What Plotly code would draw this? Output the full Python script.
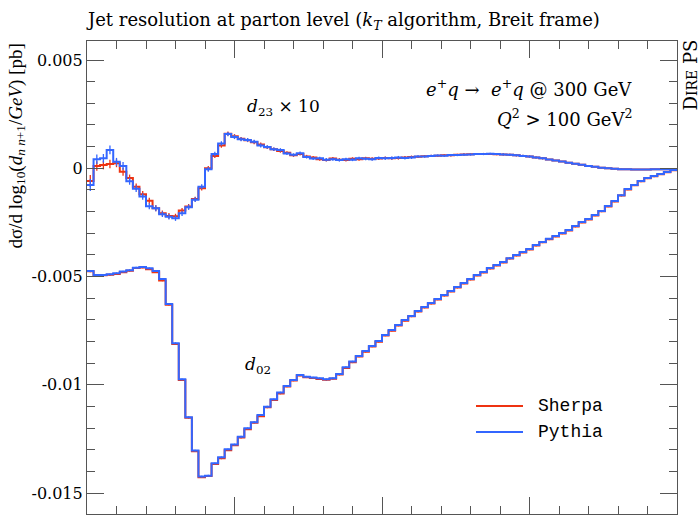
import numpy as np
import plotly.graph_objects as go

# ---------------- data (values in units of 1e-3 pb) ----------------
N_BINS = 90
X_MIN, X_MAX = 0.0, 4.0          # log10 range of the jet resolution (no labels shown)

d02_pythia = [
    -4.74, -4.93, -4.93, -4.90, -4.85, -4.77, -4.71, -4.59, -4.56, -4.62,
    -4.74, -5.11, -6.27, -8.08, -9.75, -11.50, -13.04, -14.24, -14.20, -13.63,
    -13.35, -12.98, -12.76, -12.40, -12.01, -11.73, -11.40, -11.01, -10.67, -10.36,
    -10.06, -9.78, -9.55, -9.63, -9.67, -9.70, -9.75, -9.70, -9.50, -9.19,
    -8.93, -8.67, -8.44, -8.21, -7.98, -7.70, -7.47, -7.24, -7.01, -6.82,
    -6.59, -6.41, -6.22, -6.04, -5.85, -5.67, -5.48, -5.30, -5.11, -4.93,
    -4.79, -4.61, -4.47, -4.33, -4.15, -4.01, -3.87, -3.73, -3.54, -3.40,
    -3.26, -3.13, -2.99, -2.85, -2.67, -2.48, -2.34, -2.16, -1.97, -1.74,
    -1.51, -1.24, -0.96, -0.77, -0.59, -0.45, -0.36, -0.26, -0.17, -0.08,
]
d02_sherpa = [
    -4.76, -4.95, -4.94, -4.92, -4.88, -4.80, -4.73, -4.61, -4.58, -4.66,
    -4.80, -5.18, -6.30, -8.12, -9.78, -11.52, -13.07, -14.27, -14.22, -13.66,
    -13.40, -13.02, -12.79, -12.44, -12.05, -11.75, -11.45, -11.04, -10.70, -10.40,
    -10.08, -9.80, -9.57, -9.65, -9.69, -9.73, -9.77, -9.72, -9.53, -9.22,
    -8.96, -8.69, -8.47, -8.23, -8.01, -7.72, -7.50, -7.26, -7.04, -6.84,
    -6.62, -6.43, -6.25, -6.06, -5.88, -5.69, -5.51, -5.32, -5.14, -4.95,
    -4.81, -4.63, -4.49, -4.35, -4.17, -4.03, -3.89, -3.75, -3.57, -3.42,
    -3.28, -3.15, -3.01, -2.87, -2.69, -2.50, -2.36, -2.18, -1.99, -1.76,
    -1.53, -1.26, -0.98, -0.78, -0.60, -0.46, -0.37, -0.27, -0.18, -0.09,
]

d23x10_sherpa = [
    -0.59, 0.11, 0.15, 0.20, 0.23, -0.16, -0.45, -0.85, -1.20, -1.50,
    -1.85, -2.08, -2.20, -2.22, -1.95, -1.77, -1.42, -0.92, 0.00, 0.57,
    1.05, 1.60, 1.48, 1.36, 1.30, 1.20, 1.10, 0.97, 0.88, 0.80,
    0.72, 0.60, 0.66, 0.55, 0.50, 0.42, 0.38, 0.45, 0.40, 0.38,
    0.44, 0.42, 0.46, 0.44, 0.45, 0.48, 0.46, 0.47, 0.50, 0.52,
    0.53, 0.56, 0.57, 0.58, 0.60, 0.60, 0.62, 0.64, 0.65, 0.66,
    0.66, 0.66, 0.65, 0.64, 0.62, 0.60, 0.57, 0.54, 0.50, 0.46,
    0.41, 0.36, 0.31, 0.26, 0.21, 0.16, 0.11, 0.07, 0.03, 0.00,
    -0.02, -0.04, -0.05, -0.06, -0.06, -0.06, -0.05, -0.05, -0.04, -0.03,
]
d23x10_pythia = [
    -0.77, 0.42, 0.46, 0.85, 0.30, 0.11, -0.60, -0.95, -1.30, -1.75,
    -1.85, -2.12, -2.24, -2.31, -2.08, -1.80, -1.45, -0.85, -0.05, 0.66,
    1.15, 1.58, 1.45, 1.34, 1.31, 1.23, 1.05, 0.98, 0.88, 0.85,
    0.68, 0.62, 0.70, 0.52, 0.45, 0.46, 0.40, 0.42, 0.38, 0.42,
    0.40, 0.46, 0.44, 0.42, 0.48, 0.46, 0.47, 0.50, 0.48, 0.50,
    0.55, 0.54, 0.57, 0.59, 0.58, 0.61, 0.61, 0.63, 0.64, 0.66,
    0.66, 0.67, 0.66, 0.64, 0.62, 0.60, 0.57, 0.54, 0.50, 0.46,
    0.41, 0.36, 0.31, 0.26, 0.21, 0.16, 0.11, 0.07, 0.03, 0.00,
    -0.02, -0.04, -0.05, -0.06, -0.06, -0.06, -0.05, -0.05, -0.04, -0.03,
]

# statistical uncertainties (1e-3 pb)
d23_err = [0.28, 0.22, 0.20, 0.20, 0.18, 0.18, 0.16, 0.15, 0.15, 0.14,
           0.14, 0.13, 0.13, 0.12, 0.12, 0.12, 0.11, 0.11, 0.11, 0.10,
           0.10, 0.10, 0.10, 0.09, 0.09, 0.09, 0.09, 0.08, 0.08, 0.08] + [0.07] * 20 + [0.05] * 20 + [0.02] * 20
d02_err = [0.04] * N_BINS

y_tick_vals = [0.005, 0.0, -0.005, -0.01, -0.015]
y_tick_text = ["0.005", "0", "-0.005", "-0.01", "-0.015"]
Y_RANGE = [-0.01597, 0.00588]

series_names = ["Sherpa", "Pythia"]
RED = "#EE3311"
BLUE = "#3366FF"
SERIF = "DejaVu Serif"
SERIF2 = "Liberation Serif"
MONO = "Liberation Mono"

# ---------------- build figure ----------------
edges = np.linspace(X_MIN, X_MAX, N_BINS + 1)
centers = 0.5 * (edges[:-1] + edges[1:])
scale = 1e-3


def step_trace(vals, color, name):
    v = np.array(vals) * scale
    return go.Scatter(x=edges, y=np.append(v, v[-1]), mode="lines",
                      line=dict(color=color, width=2, shape="hv"),
                      name=name, showlegend=False, hoverinfo="skip")


def err_trace(vals, errs, color):
    v = np.array(vals) * scale
    return go.Scatter(x=centers, y=v, mode="markers",
                      marker=dict(size=1, color=color, opacity=0),
                      error_y=dict(type="data", array=np.array(errs) * scale,
                                   color=color, thickness=1.3, width=0, visible=True),
                      showlegend=False, hoverinfo="skip")


fig = go.Figure()
fig.add_trace(err_trace(d23x10_sherpa, d23_err, RED))
fig.add_trace(err_trace(d02_sherpa, d02_err, RED))
fig.add_trace(step_trace(d23x10_sherpa, RED, series_names[0]))
fig.add_trace(step_trace(d02_sherpa, RED, series_names[0]))
fig.add_trace(err_trace(d23x10_pythia, d23_err, BLUE))
fig.add_trace(err_trace(d02_pythia, d02_err, BLUE))
fig.add_trace(step_trace(d23x10_pythia, BLUE, series_names[1]))
fig.add_trace(step_trace(d02_pythia, BLUE, series_names[1]))

axis_common = dict(showline=True, linecolor="#555555", linewidth=1.2, mirror="allticks",
                   ticks="inside", tickcolor="#555555", ticklen=17, tickwidth=1.2,
                   showgrid=False, zeroline=False)

fig.update_xaxes(range=[X_MIN, X_MAX], tickmode="linear", tick0=0, dtick=1,
                 showticklabels=False,
                 minor=dict(ticks="inside", dtick=0.2, tick0=0, ticklen=8,
                            tickcolor="#555555", tickwidth=1.2, showgrid=False),
                 **axis_common)
fig.update_yaxes(range=Y_RANGE, tickmode="array", tickvals=y_tick_vals, ticktext=y_tick_text,
                 tickfont=dict(family=SERIF, size=16, color="black"),
                 minor=dict(ticks="inside", tickmode="linear", dtick=0.001, tick0=0, ticklen=8,
                            tickcolor="#555555", tickwidth=1.2, showgrid=False),
                 **axis_common)

L, R, T, B = 87, 23, 41, 3
W, H = 700, 517


def px(xp):
    return (xp - L) / (W - L - R)


def py(yp):
    return (H - B - yp) / (H - T - B)


annots = [
    dict(text="dσ/d log<sub>10</sub>(<i>d</i><sub><i>n n</i>+1</sub>/<i>GeV</i>) [pb]",
         x=px(16), y=py(42), xanchor="center", yanchor="top", textangle=-90,
         font=dict(family=SERIF2, size=19)),
    dict(text="<i>d</i><sub>23</sub> × 10", x=px(245), y=py(107), xanchor="left", yanchor="middle",
         font=dict(family=SERIF, size=17)),
    dict(text="<i>d</i><sub>02</sub>", x=px(243), y=py(365), xanchor="left", yanchor="middle",
         font=dict(family=SERIF, size=17)),
    dict(text="<i>e</i><sup>+</sup><i>q</i> →  <i>e</i><sup>+</sup><i>q</i> @ 300 GeV",
         x=px(634), y=py(88), xanchor="right", yanchor="middle", font=dict(family=SERIF, size=18)),
    dict(text="<i>Q</i><sup>2</sup> > 100 GeV<sup>2</sup>",
         x=px(634), y=py(118), xanchor="right", yanchor="middle", font=dict(family=SERIF, size=18)),
    dict(text="D<span style='font-size:14px'>IRE</span> PS", x=px(690), y=py(38),
         xanchor="center", yanchor="top", textangle=-90, font=dict(family=SERIF, size=18)),
]

# legend (drawn as line samples + labels)
legend_colors = [RED, BLUE]
legend_rows_y = [406, 432]
shapes = []
for name, col, ly in zip(series_names, legend_colors, legend_rows_y):
    shapes.append(dict(type="line", xref="paper", yref="paper", x0=px(476), x1=px(523),
                       y0=py(ly), y1=py(ly), line=dict(color=col, width=2)))
    annots.append(dict(text=name, x=px(536), y=py(ly), xanchor="left", yanchor="middle",
                       font=dict(family=MONO, size=18)))

for a in annots:
    a.update(xref="paper", yref="paper", showarrow=False)
    a["font"]["color"] = "black"

fig.update_layout(
    width=W, height=H,
    margin=dict(l=L, r=R, t=T, b=B),
    paper_bgcolor="white", plot_bgcolor="white",
    showlegend=False,
    title=dict(text="Jet resolution at parton level (<i>k</i><sub><i>T</i></sub> algorithm, Breit frame)",
               x=88 / W, xanchor="left", y=1 - 20 / H, yanchor="middle",
               font=dict(family=SERIF, size=18, color="black")),
    annotations=annots,
    shapes=shapes,
)

fig.write_html("out.html")
